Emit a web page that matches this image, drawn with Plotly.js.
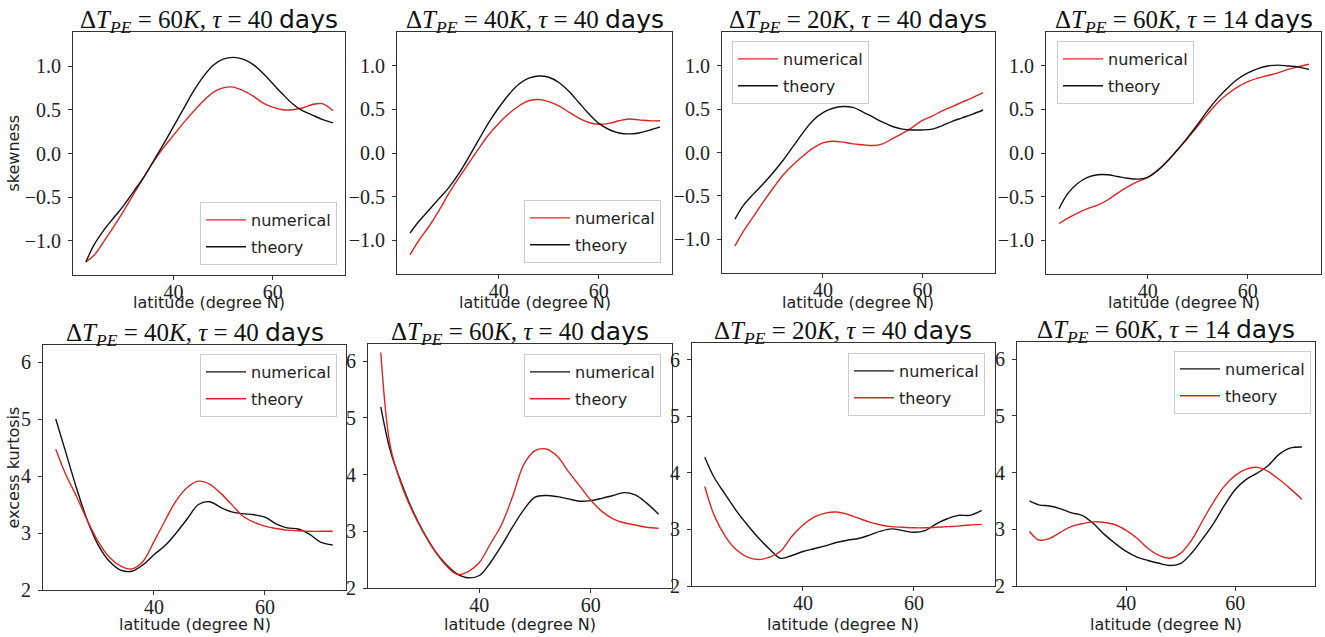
<!DOCTYPE html>
<html>
<head>
<meta charset="utf-8">
<script src="https://cdn.plot.ly/plotly-3.0.1.min.js"></script>
<style>
  html, body { margin: 0; padding: 0; background: #fff; }
  #chart { width: 1325px; height: 637px; }
</style>
</head>
<body>
<div id="chart"></div>
<script>
// Latitude grid (degree N) shared by every curve
const latitudes = [22.3, 24, 26, 28, 30, 32, 34, 36, 38, 40, 42, 44, 46, 48, 50,
                   52, 54, 56, 58, 60, 62, 64, 66, 68, 70, 72.2];

// Panel parameters: ΔT_PE (K) and τ (days)
const deltaT = [60, 40, 20, 60, 40, 60, 20, 60];
const tauDays = [40, 40, 40, 14, 40, 40, 40, 14];

// Skewness, top row
const skewNum_60K_40d = [-1.24, -1.16, -1.00, -0.83, -0.65, -0.46, -0.27, -0.09, 0.07, 0.21, 0.35, 0.48, 0.60,
                         0.70, 0.75, 0.76, 0.72, 0.66, 0.58, 0.53, 0.50, 0.50, 0.52, 0.56, 0.57, 0.49];
const skewThe_60K_40d = [-1.24, -1.04, -0.87, -0.73, -0.59, -0.43, -0.27, -0.08, 0.11, 0.31, 0.51, 0.71, 0.88,
                         1.01, 1.08, 1.10, 1.08, 1.02, 0.92, 0.80, 0.68, 0.57, 0.49, 0.44, 0.39, 0.35];
const skewNum_40K_40d = [-1.17, -1.01, -0.85, -0.67, -0.47, -0.29, -0.12, 0.05, 0.21, 0.34, 0.45, 0.54, 0.60,
                         0.615, 0.59, 0.54, 0.47, 0.40, 0.35, 0.33, 0.34, 0.37, 0.39, 0.38, 0.37, 0.37];
const skewThe_40K_40d = [-0.92, -0.79, -0.66, -0.53, -0.40, -0.24, -0.05, 0.15, 0.35, 0.52, 0.67, 0.79, 0.86,
                         0.885, 0.87, 0.81, 0.71, 0.58, 0.45, 0.34, 0.27, 0.23, 0.22, 0.23, 0.26, 0.30];
const skewNum_20K_40d = [-1.08, -0.91, -0.74, -0.57, -0.41, -0.26, -0.14, -0.04, 0.05, 0.11, 0.13, 0.12, 0.10,
                         0.09, 0.08, 0.10, 0.16, 0.22, 0.29, 0.37, 0.42, 0.48, 0.53, 0.58, 0.63, 0.69];
const skewThe_20K_40d = [-0.77, -0.61, -0.48, -0.36, -0.23, -0.09, 0.07, 0.23, 0.37, 0.46, 0.51, 0.53, 0.52,
                         0.47, 0.41, 0.35, 0.30, 0.27, 0.26, 0.26, 0.27, 0.31, 0.36, 0.40, 0.44, 0.49];
const skewNum_60K_14d = [-0.81, -0.75, -0.69, -0.64, -0.60, -0.54, -0.46, -0.39, -0.33, -0.28, -0.20, -0.09, 0.04,
                         0.17, 0.31, 0.45, 0.58, 0.68, 0.76, 0.82, 0.86, 0.89, 0.92, 0.96, 0.99, 1.02];
const skewThe_60K_14d = [-0.64, -0.47, -0.35, -0.28, -0.25, -0.25, -0.27, -0.29, -0.30, -0.28, -0.20, -0.09, 0.04,
                         0.18, 0.33, 0.49, 0.63, 0.75, 0.85, 0.92, 0.97, 1.00, 1.01, 1.00, 0.99, 0.96];

// Excess kurtosis, bottom row
const kurtNum_40K_40d = [5.00, 4.45, 3.80, 3.22, 2.78, 2.50, 2.35, 2.33, 2.44, 2.62, 2.78, 3.00, 3.25,
                         3.50, 3.55, 3.45, 3.37, 3.34, 3.32, 3.28, 3.16, 3.09, 3.07, 2.98, 2.84, 2.79];
const kurtThe_40K_40d = [4.47, 4.05, 3.65, 3.22, 2.84, 2.57, 2.42, 2.37, 2.50, 2.85, 3.22, 3.57, 3.80,
                         3.91, 3.86, 3.70, 3.50, 3.30, 3.19, 3.12, 3.08, 3.05, 3.04, 3.03, 3.03, 3.03];
const kurtNum_60K_40d = [5.19, 4.42, 3.85, 3.37, 2.98, 2.66, 2.42, 2.25, 2.18, 2.22, 2.45, 2.75, 3.08,
                         3.38, 3.60, 3.63, 3.61, 3.57, 3.53, 3.54, 3.58, 3.63, 3.68, 3.64, 3.50, 3.30];
const kurtThe_60K_40d = [6.15, 4.50, 3.82, 3.35, 2.97, 2.65, 2.40, 2.24, 2.29, 2.45, 2.78, 3.12, 3.62,
                         4.18, 4.42, 4.45, 4.32, 4.05, 3.80, 3.55, 3.35, 3.22, 3.15, 3.11, 3.07, 3.05];
const kurtNum_20K_40d = [4.28, 3.92, 3.62, 3.33, 3.08, 2.85, 2.65, 2.49, 2.54, 2.61, 2.66, 2.71, 2.77,
                         2.81, 2.84, 2.90, 2.97, 3.01, 2.98, 2.95, 2.98, 3.10, 3.19, 3.25, 3.25, 3.34];
const kurtThe_20K_40d = [3.76, 3.25, 2.88, 2.64, 2.51, 2.47, 2.51, 2.62, 2.88, 3.08, 3.22, 3.29, 3.31,
                         3.27, 3.20, 3.13, 3.08, 3.05, 3.04, 3.03, 3.03, 3.04, 3.05, 3.06, 3.08, 3.09];
const kurtNum_60K_14d = [3.50, 3.43, 3.41, 3.36, 3.29, 3.24, 3.10, 2.91, 2.75, 2.61, 2.51, 2.45, 2.40,
                         2.36, 2.40, 2.58, 2.83, 3.10, 3.42, 3.70, 3.88, 3.99, 4.12, 4.32, 4.43, 4.45];
const kurtThe_60K_14d = [2.96, 2.81, 2.84, 2.95, 3.05, 3.10, 3.13, 3.12, 3.08, 2.98, 2.84, 2.66, 2.54,
                         2.49, 2.58, 2.81, 3.15, 3.48, 3.76, 3.95, 4.06, 4.09, 4.02, 3.88, 3.72, 3.53];

const seriesNames = ['numerical', 'theory'];
const xTicks = [40, 60];
const skewTicks = [-1.0, -0.5, 0.0, 0.5, 1.0];
const kurtTicks = [2, 3, 4, 5, 6];
const xLabel = 'latitude (degree N)';
const yLabels = ['skewness', 'excess kurtosis'];

// Series pairs per panel (numerical, theory), left to right, top then bottom
const panelSeries = [
  [skewNum_60K_40d, skewThe_60K_40d],
  [skewNum_40K_40d, skewThe_40K_40d],
  [skewNum_20K_40d, skewThe_20K_40d],
  [skewNum_60K_14d, skewThe_60K_14d],
  [kurtNum_40K_40d, kurtThe_40K_40d],
  [kurtNum_60K_40d, kurtThe_60K_40d],
  [kurtNum_20K_40d, kurtThe_20K_40d],
  [kurtNum_60K_14d, kurtThe_60K_14d]
];

// ---- layout geometry (pixels) ----
const W = 1325, H = 637;
const boxes = [
  [73, 32, 345, 275], [397, 32, 672, 274], [722, 32, 995, 273], [1046, 32, 1321, 274],
  [43, 345, 346, 590], [368, 344, 672, 588], [692, 343, 995, 586], [1017, 342, 1315, 586]
];
// legend boxes: [x, y, xanchor, yanchor] in pixels
const legendPos = [
  [337, 265, 'right', 'bottom'], [661, 263, 'right', 'bottom'],
  [732, 41, 'left', 'top'], [1057, 41, 'left', 'top'],
  [337, 354, 'right', 'top'], [661, 354, 'right', 'top'],
  [985, 353, 'right', 'top'], [1311, 351, 'right', 'top']
];
// axis-title centres (pixels)
const xTitleY = [302, 624];
const yTitleX = 13;

const RED = '#e02424', BLACK = '#111111';
const SERIF = 'Liberation Serif, DejaVu Serif, serif';
const SANS = 'DejaVu Sans, sans-serif';

const traces = [];
const layout = {
  width: W, height: H, autosize: false,
  margin: {l: 0, r: 0, t: 0, b: 0},
  paper_bgcolor: '#ffffff', plot_bgcolor: '#ffffff',
  annotations: [], showlegend: true
};

panelSeries.forEach((pair, i) => {
  const n = i + 1;
  const top = i < 4;
  const colors = top ? [RED, BLACK] : [BLACK, RED];
  const xa = n === 1 ? 'x' : 'x' + n;
  const ya = n === 1 ? 'y' : 'y' + n;
  const lg = n === 1 ? 'legend' : 'legend' + n;

  pair.forEach((vals, k) => {
    traces.push({
      x: latitudes, y: vals, type: 'scatter', mode: 'lines',
      name: seriesNames[k], xaxis: xa, yaxis: ya, legend: lg,
      legendgroup: 'p' + n + 's' + k,
      line: {color: colors[k], width: 1.4, shape: 'spline', smoothing: 1}
    });
  });

  const [x0, y0, x1, y1] = boxes[i];
  const common = {
    showline: true, mirror: true, linecolor: '#333', linewidth: 1,
    ticks: 'outside', ticklen: 4, tickwidth: 1, tickcolor: '#333',
    showgrid: false, zeroline: false,
    tickfont: {family: SERIF, size: 20, color: '#222'}
  };
  layout['xaxis' + (n === 1 ? '' : n)] = Object.assign({}, common, {
    domain: [x0 / W, x1 / W], anchor: ya,
    range: top ? [19.7, 74.6] : [20.0, 74.6],
    tickvals: xTicks,
    ticklabelstandoff: -5
  });
  layout['yaxis' + (n === 1 ? '' : n)] = Object.assign({}, common, {
    domain: [1 - y1 / H, 1 - y0 / H], anchor: xa,
    range: top ? [-1.39, 1.39] : [2, 6.3],
    tickvals: top ? skewTicks : kurtTicks,
    tickformat: top ? '.1f' : 'd',
    ticklabelstandoff: 3
  });

  const lp = legendPos[i];
  layout[lg] = {
    x: lp[0] / W, y: 1 - lp[1] / H, xanchor: lp[2], yanchor: lp[3],
    xref: 'paper', yref: 'paper',
    bgcolor: 'rgba(255,255,255,0.85)', bordercolor: '#cccccc', borderwidth: 1,
    font: {family: SANS, size: 16, color: '#222'},
    traceorder: 'grouped', tracegroupgap: 3, itemwidth: 40, itemclick: false
  };

  // panel title
  layout.annotations.push({
    xref: 'paper', yref: 'paper',
    x: (x0 + x1) / 2 / W, y: 1 - y0 / H, yshift: -7,
    xanchor: 'center', yanchor: 'bottom', showarrow: false,
    font: {family: SERIF, size: 25, color: '#111'},
    text: 'Δ<i>T</i><sub><i>PE</i></sub> = ' + deltaT[i] + '<i>K</i>, <i>τ</i> = ' + tauDays[i] +
          ' <span style="font-family:DejaVu Sans">days</span>'
  });
  // x-axis title
  layout.annotations.push({
    xref: 'paper', yref: 'paper',
    x: (x0 + x1) / 2 / W, y: 1 - xTitleY[top ? 0 : 1] / H,
    xanchor: 'center', yanchor: 'middle', showarrow: false,
    font: {family: SANS, size: 16, color: '#222'},
    text: xLabel
  });
  // y-axis title on the first panel of each row
  if (n === 1 || n === 5) {
    layout.annotations.push({
      xref: 'paper', yref: 'paper',
      x: yTitleX / W, y: 1 - (y0 + y1) / 2 / H,
      xanchor: 'center', yanchor: 'middle', showarrow: false, textangle: -90,
      font: {family: SANS, size: 16, color: '#222'},
      text: yLabels[top ? 0 : 1]
    });
  }
});

Plotly.newPlot('chart', traces, layout, {staticPlot: true, displayModeBar: false});
</script>
</body>
</html>
